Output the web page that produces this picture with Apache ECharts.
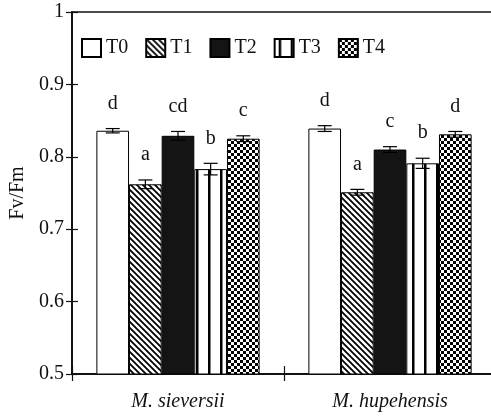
<!DOCTYPE html>
<html><head><meta charset="utf-8">
<script src="https://cdn.jsdelivr.net/npm/echarts@6/dist/echarts.min.js"></script>
<style>html,body{margin:0;padding:0;background:#fff}#c{width:491px;height:417px}</style>
</head><body><div id="c"></div>
<script>
// ---- data ----
const categories = ['M. sieversii', 'M. hupehensis'];
const treatments = ['T0', 'T1', 'T2', 'T3', 'T4'];
const T0 = [0.836, 0.839];
const T1 = [0.762, 0.751];
const T2 = [0.829, 0.810];
const T3 = [0.783, 0.791];
const T4 = [0.825, 0.831];
const T0err = [0.003, 0.004];
const T1err = [0.006, 0.004];
const T2err = [0.006, 0.004];
const T3err = [0.008, 0.007];
const T4err = [0.004, 0.004];
const T0letters = ['d', 'd'];
const T1letters = ['a', 'a'];
const T2letters = ['cd', 'c'];
const T3letters = ['b', 'b'];
const T4letters = ['c', 'd'];
const yMin = 0.5, yMax = 1, yStep = 0.1;

const values = [T0, T1, T2, T3, T4];
const errors = [T0err, T1err, T2err, T3err, T4err];
const letters = [T0letters, T1letters, T2letters, T3letters, T4letters];

// ---- patterns ----
function tile(w, h, draw) {
  const c = document.createElement('canvas');
  c.width = w; c.height = h;
  const g = c.getContext('2d');
  g.fillStyle = '#fff'; g.fillRect(0, 0, w, h);
  draw(g);
  return { image: c, repeat: 'repeat' };
}
const hatch = tile(6, 6, g => {
  g.strokeStyle = '#000'; g.lineWidth = 1.8;
  g.beginPath();
  g.moveTo(-1, -1); g.lineTo(7, 7);
  g.moveTo(-7, -1); g.lineTo(1, 7);
  g.moveTo(5, -1); g.lineTo(13, 7);
  g.stroke();
});
const stripes = tile(12, 4, g => { g.fillStyle = '#000'; g.fillRect(4, 0, 2.5, 4); });
const checker = tile(6, 6, g => { g.fillStyle = '#000'; g.fillRect(0, 0, 3, 3); g.fillRect(3, 3, 3, 3); });
const fills = ['#ffffff', hatch, '#141414', stripes, checker];

const FONT = '"Liberation Serif", "DejaVu Serif", serif';
const GAP = 0.23;

const barSeries = treatments.map((t, i) => ({
  name: t, type: 'bar', data: values[i],
  barGap: '0%', barCategoryGap: (GAP * 100) + '%',
  itemStyle: { color: fills[i], borderColor: '#000', borderWidth: 1 },
  z: 2
}));

const errData = [];
treatments.forEach((t, i) => categories.forEach((c, j) => errData.push([j, values[i][j], errors[i][j], i])));

const errSeries = {
  type: 'custom', name: 'err', data: errData, z: 5,
  encode: { x: 0, y: 1 },
  renderItem: function (params, api) {
    const j = api.value(0), v = api.value(1), e = api.value(2), i = api.value(3);
    const band = api.size([1, 0])[0];
    const bw = band * (1 - GAP) / treatments.length;
    const c = api.coord([j, v]);
    const x = c[0] + (i - (treatments.length - 1) / 2) * bw;
    const yHi = api.coord([j, v + e])[1];
    const yLo = api.coord([j, v - e])[1];
    const cap = 7;
    const st = { stroke: '#000', lineWidth: 1.2 };
    return {
      type: 'group', children: [
        { type: 'line', shape: { x1: x, y1: yHi, x2: x, y2: yLo }, style: st },
        { type: 'line', shape: { x1: x - cap, y1: yHi, x2: x + cap, y2: yHi }, style: st },
        { type: 'line', shape: { x1: x - cap, y1: yLo, x2: x + cap, y2: yLo }, style: st },
        { type: 'text', x: x, y: yHi - 25, style: { text: letters[i][j], fill: '#111', font: '20px ' + FONT, align: 'center', verticalAlign: 'middle' } }
      ]
    };
  }
};

const axisLineStyle = { show: true, lineStyle: { color: '#111', width: 1.5 } };

const chart = echarts.init(document.getElementById('c'), null, { renderer: 'canvas' });
chart.setOption({
  animation: false,
  backgroundColor: '#fff',
  grid: { left: 72, top: 12, width: 424, bottom: 43, outerBoundsMode: 'none', containLabel: false,
          show: true, borderColor: '#111', borderWidth: 1.5, backgroundColor: 'transparent' },
  legend: {
    data: treatments, left: 76, top: 33, icon: 'rect', itemWidth: 19, itemHeight: 18, itemGap: 17,
    textStyle: { fontFamily: FONT, fontSize: 20, color: '#111', padding: [2, 0, 0, 0] }
  },
  xAxis: [
    { type: 'category', data: categories, position: 'bottom',
      axisLine: axisLineStyle,
      axisTick: { show: true, length: 7, lineStyle: { color: '#111', width: 1.2 } },
      axisLabel: { fontFamily: FONT, fontSize: 20, fontStyle: 'italic', color: '#111', margin: 18 } },
    { type: 'category', data: categories, position: 'bottom', offset: 0,
      axisLine: axisLineStyle, axisLabel: { show: false },
      axisTick: { show: true, inside: true, length: 8, lineStyle: { color: '#111', width: 1.2 } } }
  ],
  yAxis: [
    { type: 'value', min: yMin, max: yMax, interval: yStep, position: 'left',
      name: 'Fv/Fm', nameLocation: 'middle', nameGap: 39,
      nameTextStyle: { fontFamily: FONT, fontSize: 20, color: '#111' },
      axisLine: axisLineStyle,
      axisTick: { show: true, length: 6, lineStyle: { color: '#111', width: 1.2 } },
      axisLabel: { fontFamily: FONT, fontSize: 20, color: '#111', margin: 8 },
      splitLine: { show: false } },
    { type: 'value', min: yMin, max: yMax, interval: yStep, position: 'left', offset: 0,
      axisLine: axisLineStyle, axisLabel: { show: false }, splitLine: { show: false },
      axisTick: { show: true, inside: true, length: 6, lineStyle: { color: '#111', width: 1.2 } } }
  ],
  series: barSeries.concat([errSeries])
});
</script>
</body></html>
